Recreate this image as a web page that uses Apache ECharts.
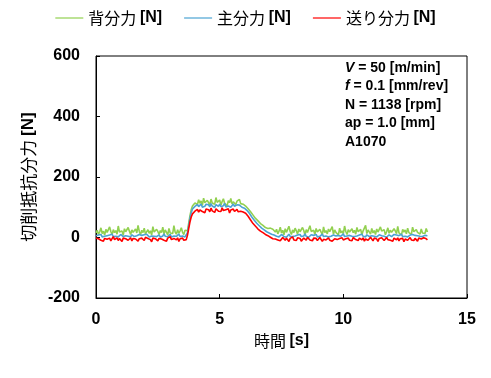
<!DOCTYPE html>
<html>
<head>
<meta charset="utf-8">
<script src="https://cdn.jsdelivr.net/npm/echarts@6/dist/echarts.min.js"></script>
<style>html,body{margin:0;padding:0;background:#fff}#c{width:491px;height:378px}</style>
</head>
<body>
<div id="c"></div>
<script>
const dt = 0.05; // sampling step [s]
const seriesNames = ['背分力', '主分力', '送り分力'];
const xTicks = [0, 5, 10, 15];
const yTicks = [-200, 0, 200, 400, 600];

const backForce = [
  15,24,10,19,32,13,21,8,27,17,12,35,20,9,26,16,23,11,38,18,14,22,7,29,19,13,33,21,10,25,
  17,12,28,15,40,20,9,24,16,31,11,19,26,14,22,8,36,18,13,27,20,10,23,16,34,12,25,19,9,30,
  15,21,13,39,18,11,26,14,22,32,17,10,24,19,
  22,48,72,92,104,110,114,
  118,109,125,113,121,106,130,115,111,123,117,108,127,114,120,110,132,116,112,124,
  107,119,128,113,117,105,122,115,129,111,118,124,109,120,114,126,112,117,110,
  108,104,101,95,92,85,81,74,70,63,59,55,51,46,44,40,38,33,35,30,28,31,25,27,22,
  18,27,12,21,34,15,24,9,29,17,13,37,20,10,25,16,31,22,11,28,19,14,33,23,8,26,17,12,39,20,
  15,24,10,30,18,13,27,21,9,35,16,23,12,28,19,14,36,11,25,17,21,8,31,15,22,13,38,20,10,26,
  18,12,29,16,24,11,33,19,14,27,9,22,17,40,13,25,20,11,30,15,23,10,28,18,12,35,21,16,26,9,
  19,32,14,24,17,11,29,22,13,37,15,20,8,27,18,25,12,31,16,21,10,34,19,14,26,17,23,11,28,15,
  20,13,30,18];
const mainForce = [
  6,3,8,5,10,2,7,4,9,6,1,8,5,11,3,7,4,9,2,6,10,5,3,8,6,12,4,7,2,9,
  5,3,8,6,1,10,4,7,5,9,3,11,6,2,8,5,7,4,10,3,6,9,1,7,5,12,4,8,3,6,
  10,2,7,5,9,4,6,11,3,8,5,7,2,9,
  16,40,64,82,94,100,103,
  104,109,102,107,111,100,106,103,110,105,108,101,112,104,107,99,109,106,103,110,
  102,108,105,113,101,107,104,109,100,106,111,103,105,108,102,107,104,100,103,
  97,94,90,85,80,74,68,63,57,52,47,43,39,35,31,28,25,22,19,17,15,12,11,9,8,
  7,4,9,2,6,10,5,3,8,1,6,11,4,7,3,9,5,2,8,6,10,3,7,5,12,4,8,1,6,9,
  3,7,5,10,2,8,4,6,11,3,7,5,9,2,6,4,10,8,3,5,1,7,9,4,6,12,3,8,5,2,
  7,10,4,6,3,9,5,1,8,6,11,4,7,2,9,5,3,8,6,10,4,7,2,5,9,3,6,12,4,8,
  1,6,9,5,3,7,10,4,8,2,6,5,11,3,7,4,9,2,6,8,3,10,5,7,1,6,9,4,8,3,
  5,7,2,6];
const feedForce = [
  -2,-7,-4,1,-9,-5,-12,-3,0,-6,-8,-2,-11,-4,3,-7,-5,-1,-10,-3,-6,-13,-2,-8,-4,2,-9,-6,-1,-11,
  -3,-7,-5,0,-12,-4,-8,-2,-6,-10,1,-5,-3,-9,-7,-14,-2,-6,-4,0,-11,-3,-8,-5,-1,-9,-6,-12,-2,-4,
  3,-7,-10,-3,-5,-8,-1,-13,-4,-6,-2,-9,-3,-7,
  8,30,52,68,78,84,87,
  88,93,84,91,96,86,90,82,94,89,92,85,97,88,91,83,95,90,87,93,
  86,98,89,84,92,90,95,81,91,88,94,86,90,93,85,91,87,89,84,
  84,80,77,70,66,58,54,46,43,37,34,28,27,21,22,16,17,10,12,6,7,1,2,-4,-2,
  -5,-1,-8,-3,-11,-6,0,-4,-9,-2,-7,-13,-3,-5,2,-8,-4,-10,-1,-6,-3,-12,-7,-2,-5,-9,1,-4,-8,-6,
  -11,-2,-5,-3,-10,-7,0,-4,-13,-6,-2,-8,-5,-1,-9,-3,-12,-6,-4,2,-7,-10,-3,-5,-1,-8,-14,-4,-6,-2,
  -9,-5,-11,0,-3,-7,-4,-10,-2,-6,-8,-1,-12,-5,-3,-9,-6,1,-4,-11,-2,-7,-5,-13,-3,-8,-1,-6,-10,-4,
  0,-7,-3,-9,-5,-12,-2,-6,-8,-1,-11,-4,-7,-3,-14,-5,-2,-9,-6,0,-8,-4,-10,-3,-6,-12,-2,-7,-5,-9,
  -1,-6,-4,-8];

const colors = ['#92D050', '#4BA3D3', '#FF0000'];
const values = [backForce, mainForce, feedForce];
const toPairs = arr => arr.map((v, i) => [+(i * dt).toFixed(2), v]);

const chart = echarts.init(document.getElementById('c'));
const cjk = '"Noto Sans CJK JP", sans-serif';
const lat = '"Liberation Sans", Arial, sans-serif';
const richAB = size => ({
  a: { fontFamily: cjk, fontSize: size, color: '#000' },
  b: { fontFamily: lat, fontSize: size, fontWeight: 'bold', color: '#000' }
});
chart.setOption({
  animation: false,
  color: colors,
  legend: {
    top: 5, left: 'center', icon: 'rect', itemWidth: 28, itemHeight: 1.2, itemGap: 22,
    data: seriesNames,
    formatter: n => '{a|' + n + ' }{b|[N]}',
    textStyle: { rich: richAB(16) }
  },
  grid: { left: 96, right: 24, top: 56, bottom: 80, show: true, borderColor: '#000', borderWidth: 1 },
  xAxis: {
    type: 'value', min: xTicks[0], max: xTicks[xTicks.length - 1], interval: 5,
    name: '{a|時間 }{b|[s]}', nameLocation: 'middle', nameGap: 34,
    nameTextStyle: { rich: richAB(16) },
    axisLine: { onZero: false, lineStyle: { color: '#000', width: 1 } },
    axisTick: { inside: true, length: 4, lineStyle: { color: '#000' } },
    axisLabel: { margin: 14, fontFamily: lat, fontSize: 16, fontWeight: 'bold', color: '#000' },
    splitLine: { show: false }
  },
  yAxis: {
    type: 'value', min: yTicks[0], max: yTicks[yTicks.length - 1], interval: 200,
    name: '{a|切削抵抗分力 }{b|[N]}', nameLocation: 'middle', nameGap: 54,
    nameTextStyle: { rich: richAB(17) },
    axisLine: { show: true, onZero: false, lineStyle: { color: '#000', width: 1 } },
    axisTick: { show: true, inside: true, length: 4, lineStyle: { color: '#000' } },
    axisLabel: { margin: 16, fontFamily: lat, fontSize: 16, fontWeight: 'bold', color: '#000' },
    splitLine: { show: false }
  },
  graphic: [{
    type: 'text', left: 345, top: 61, silent: true, z: 100,
    style: {
      text: '{i|V}{b| = 50 [m/min]}\n{i|f}{b| = 0.1 [mm/rev]}\n{b|N = 1138 [rpm]}\n{b|ap = 1.0 [mm]}\n{b|A1070}',
      rich: {
        b: { fontFamily: lat, fontSize: 14, fontWeight: 'bold', lineHeight: 18.5, fill: '#000' },
        i: { fontFamily: lat, fontSize: 14, fontWeight: 'bold', fontStyle: 'italic', lineHeight: 18.5, fill: '#000' }
      },
      fill: '#000'
    }
  }],
  series: seriesNames.map((n, k) => ({
    name: n, type: 'line', symbol: 'none', data: toPairs(values[k]),
    lineStyle: { width: 1.6, color: colors[k] }, itemStyle: { color: colors[k] }
  }))
});
</script>
</body>
</html>
